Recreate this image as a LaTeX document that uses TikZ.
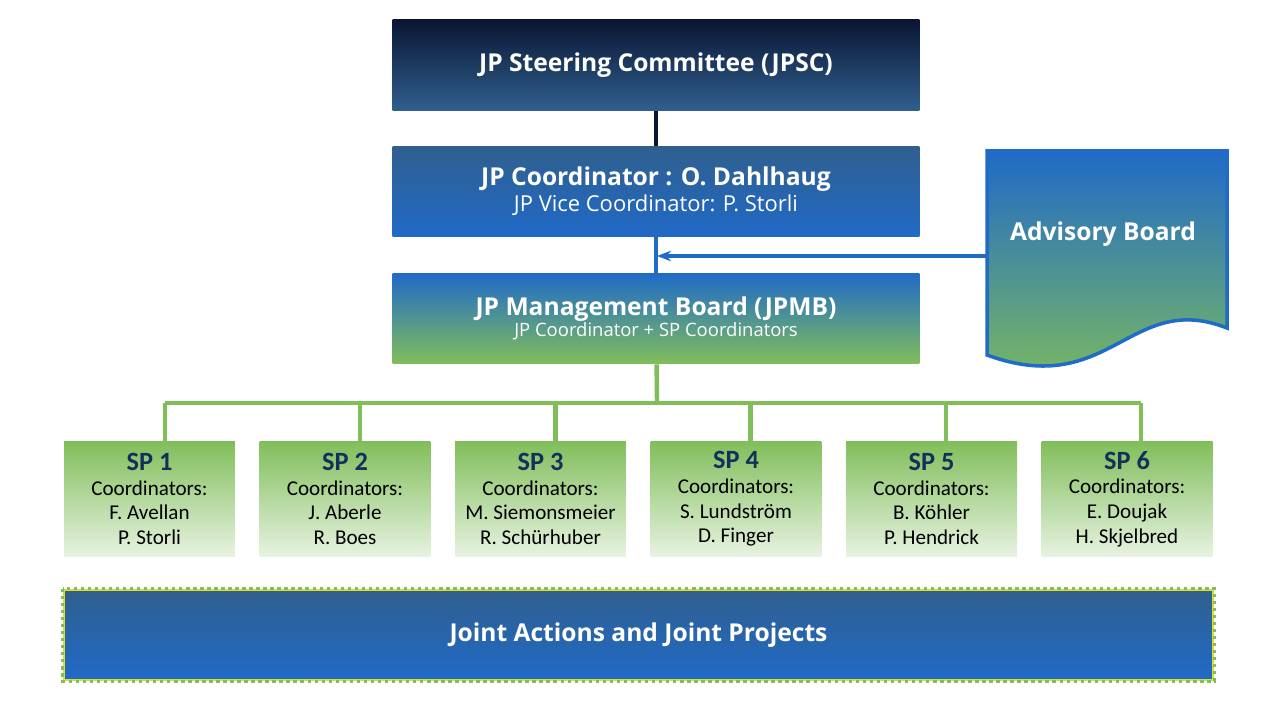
\documentclass[tikz,border=0pt]{standalone}
\usepackage{fontspec}
\setmainfont{Open Sans}
\newfontfamily\bodyfont{Carlito}
\usetikzlibrary{arrows.meta, positioning}
\definecolor{navydark}{RGB}{10, 22, 50}
\definecolor{steelblue}{RGB}{48, 95, 142}
\definecolor{brightblue}{RGB}{32, 106, 200}
\definecolor{leafgreen}{RGB}{128, 190, 90}
\definecolor{palegreen}{RGB}{232, 243, 226}
\definecolor{sptitle}{RGB}{20, 48, 90}
\begin{document}
\begin{tikzpicture}[x=0.02cm, y=-0.02cm,
    head/.style={rectangle, minimum width=10.54cm, minimum height=1.82cm, text=white, align=center, inner sep=0pt},
    spbox/.style={rectangle, minimum width=3.42cm, minimum height=2.32cm, top color=leafgreen, bottom color=palegreen, align=center, font=\bodyfont\fontsize{12}{14}\selectfont, inner sep=0pt},
    link/.style={line width=2.5pt}
]
\useasboundingbox (0,0) rectangle (1280,720);

\node[head, top color=navydark, bottom color=steelblue] (jpsc) at (656,65) {\bfseries\fontsize{14}{16}\selectfont JP Steering Committee (JPSC)};
\node[head, top color=steelblue, bottom color=brightblue] (coord) at (656,191.5) {{\bfseries\fontsize{14}{16}\selectfont JP Coordinator : O. Dahlhaug}\\[1pt]{\fontsize{12.5}{14}\selectfont JP Vice Coordinator: P. Storli}};
\node[head, top color=brightblue, bottom color=leafgreen] (jpmb) at (656,318.5) {{\bfseries\fontsize{14}{16}\selectfont JP Management Board (JPMB)}\\{\fontsize{10.5}{12}\selectfont JP Coordinator + SP Coordinators}};

% advisory board
\shade[top color=brightblue, bottom color=leafgreen, draw=brightblue, line width=2pt]
  (987,151) -- (1227,151) -- (1227,328) .. controls (1130,290) and (1110,400) .. (987,355) -- cycle;
\node[text=white, font=\bfseries\fontsize{14}{16}\selectfont] (advisory) at (1103,234) {Advisory Board};
\coordinate (advin) at (987,256);
\coordinate (advout) at (657,256);

\draw[link, draw=navydark] (jpsc) -- (coord);
\draw[link, draw=brightblue] (coord) -- (jpmb);
\draw[link, draw=brightblue, -{Stealth[length=8pt]}] (advin) -- (advout);

% sub-programmes
\coordinate (bus) at (657,403);
\draw[link, draw=leafgreen] (jpmb) -- (bus);
\draw[link, draw=leafgreen] (165,403) -- (1141,403);
\foreach \i/\a/\b in {1/F. Avellan/P. Storli, 2/J. Aberle/R. Boes, 3/M. Siemonsmeier/R. Schürhuber, 4/S. Lundström/D. Finger, 5/B. Köhler/P. Hendrick, 6/E. Doujak/H. Skjelbred}{
  \node[spbox] (sp\i) at ({149.5+195.5*(\i-1)},499) {{\bfseries\fontsize{15}{18}\selectfont\color{sptitle}SP \i}\\Coordinators:\\\a\\\b};
  \coordinate (drop\i) at ({165+195.2*(\i-1)},403);
  \draw[link, draw=leafgreen] (drop\i) -- (drop\i |- sp\i.north);
}

% joint actions
\node[rectangle, minimum width=22.98cm, minimum height=1.8cm, top color=steelblue, bottom color=brightblue, draw=yellow!70!leafgreen, line width=1.5pt, text=white, font=\bfseries\fontsize{14}{16}\selectfont] (joint) at (638.5,635) {Joint Actions and Joint Projects};
\draw[leafgreen, line width=1.5pt, dash pattern=on 2pt off 2pt] (joint.north west) rectangle (joint.south east);
\end{tikzpicture}
\end{document}
